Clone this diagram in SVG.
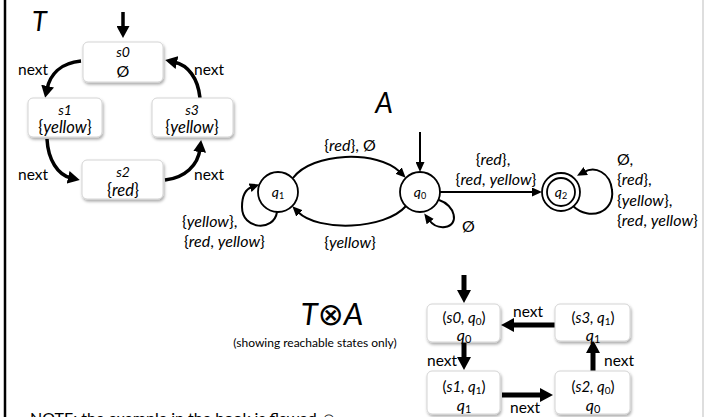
<svg xmlns="http://www.w3.org/2000/svg" width="704" height="417" viewBox="0 0 704 417">
<style>
text{font-family:Lato,"Liberation Sans","DejaVu Sans",sans-serif;fill:#000}
.i{font-style:italic}
.lbl{font-size:15.5px}
.al{font-size:16px}
.big{font-style:italic}
.box{fill:#fff;stroke:#d4d4d4;stroke-width:1;filter:url(#sh)}
.tc{stroke:#000;stroke-width:3.5;fill:none}
.ac{stroke:#000;stroke-width:2;fill:none}
.pc{stroke:#000;stroke-width:5;fill:none}
.st{fill:#fff;stroke:#000;stroke-width:1.8}
.mid{text-anchor:middle}
</style>
<defs>
<filter id="sh" x="-20%" y="-20%" width="140%" height="150%">
<feDropShadow dx="1" dy="2" stdDeviation="1.5" flood-color="#000" flood-opacity="0.35"/>
</filter>
<marker id="hT" viewBox="0 0 12 13" markerWidth="12" markerHeight="13" markerUnits="userSpaceOnUse" refX="3" refY="6.5" orient="auto"><path d="M0,0 L12,6.5 L0,13 z" fill="#000"/></marker>
<marker id="hA" viewBox="0 0 10 9" markerWidth="10" markerHeight="9" markerUnits="userSpaceOnUse" refX="2" refY="4.5" orient="auto"><path d="M0,0 L10,4.5 L0,9 z" fill="#000"/></marker>
<marker id="hP" viewBox="0 0 13 14" markerWidth="13" markerHeight="14" markerUnits="userSpaceOnUse" refX="3" refY="7" orient="auto"><path d="M0,0 L13,7 L0,14 z" fill="#000"/></marker>
</defs>
<rect width="704" height="417" fill="#fff"/>
<line x1="5" y1="0" x2="5" y2="417" stroke="#000" stroke-width="2.5"/>
<line x1="703" y1="0" x2="703" y2="417" stroke="#bdbdbd" stroke-width="1"/>
<text x="268" y="-9" style="font-family:'Liberation Sans',sans-serif;font-weight:bold;font-size:36px">p</text>
<text x="482" y="-9" style="font-family:'Liberation Sans',sans-serif;font-weight:bold;font-size:36px">g</text>

<text x="32" y="31" class="big" style="font-size:27px">T</text>
<text x="384" y="113" class="big mid" style="font-size:28px">A</text>
<text x="332" y="325" class="big mid" style="font-size:31px">T⊗A</text>
<text x="315" y="347" class="mid" style="font-size:12px">(showing reachable states only)</text>
<text x="30" y="424" style="font-size:16px">NOTE: the example in the book is flawed ☺</text>

<g id="connectors">
<path class="tc" d="M123,12 L123,29" marker-end="url(#hT)"/>
<path class="tc" d="M81,61 C60,63 50,75 47,89" marker-end="url(#hT)"/>
<path class="tc" d="M47,139 C48,160 58,175 71,178" marker-end="url(#hT)"/>
<path class="tc" d="M165,180 C185,178 198,165 200,149" marker-end="url(#hT)"/>
<path class="tc" d="M200,98 C198,78 188,65 174,62" marker-end="url(#hT)"/>

<path class="ac" d="M420,132 L420,164" marker-end="url(#hA)"/>
<path class="ac" d="M293,178 C312,152 378,150 400,172" marker-end="url(#hA)"/>
<path class="ac" d="M406,206 C385,230 318,232 298,212" marker-end="url(#hA)"/>
<path class="ac" d="M277,212 C274,232 242,230 242,207 C242,196 246,189 252,187" marker-end="url(#hA)"/>
<path class="ac" d="M439,200 C455,205 460,225 445,227 C437,228 432,224 429,220" marker-end="url(#hA)"/>
<path class="ac" d="M440,192 L534,192" marker-end="url(#hA)"/>
<path class="ac" d="M573,206 C590,222 615,212 612,190 C610,172 595,166 584,172" marker-end="url(#hA)"/>

<path class="pc" d="M464,275 L464,293" marker-end="url(#hP)"/>
<path class="pc" d="M555,325 L511,325" marker-end="url(#hP)"/>
<path class="pc" d="M464,342 L464,360" marker-end="url(#hP)"/>
<path class="pc" d="M502,395 L543,395" marker-end="url(#hP)"/>
<path class="pc" d="M593,372 L593,350" marker-end="url(#hP)"/>

<text x="18" y="75" class="lbl">next</text>
<text x="194" y="75" class="lbl">next</text>
<text x="18" y="180" class="lbl">next</text>
<text x="194" y="180" class="lbl">next</text>

<text x="350" y="151" class="al mid">{<tspan class="i">red</tspan>}, Ø</text>
<text x="350" y="248" class="al mid">{<tspan class="i">yellow</tspan>}</text>
<text x="182" y="227" class="al">{<tspan class="i">yellow</tspan>},</text>
<text x="184" y="247" class="al">{<tspan class="i">red</tspan>, <tspan class="i">yellow</tspan>}</text>
<text x="462" y="232" class="al">Ø</text>
<text x="493" y="165" class="al mid">{<tspan class="i">red</tspan>},</text>
<text x="496" y="185" class="al mid">{<tspan class="i">red</tspan>, <tspan class="i">yellow</tspan>}</text>
<text x="617" y="165" class="al">Ø,</text>
<text x="617" y="185" class="al">{<tspan class="i">red</tspan>},</text>
<text x="617" y="206" class="al">{<tspan class="i">yellow</tspan>},</text>
<text x="617" y="226" class="al">{<tspan class="i">red</tspan>, <tspan class="i">yellow</tspan>}</text>

<text x="513" y="317" class="lbl">next</text>
<text x="427" y="366" class="lbl">next</text>
<text x="510" y="413" class="lbl">next</text>
<text x="604" y="366" class="lbl">next</text>
</g>

<g id="s0"><rect class="box" x="83" y="42" width="80" height="40" rx="5"/>
<text x="123" y="57" class="i mid" style="font-size:14px">s0</text>
<text x="123" y="77" class="mid" style="font-size:16px">Ø</text></g>
<g id="s1"><rect class="box" x="28" y="98" width="74" height="39" rx="5"/>
<text x="65" y="115" class="i mid" style="font-size:14px">s1</text>
<text x="65" y="133" class="mid" style="font-size:16.5px">{<tspan class="i">yellow</tspan>}</text></g>
<g id="s3"><rect class="box" x="152" y="98" width="81" height="39" rx="5"/>
<text x="192" y="115" class="i mid" style="font-size:14px">s3</text>
<text x="192" y="133" class="mid" style="font-size:16.5px">{<tspan class="i">yellow</tspan>}</text></g>
<g id="s2"><rect class="box" x="82" y="160" width="81" height="39" rx="5"/>
<text x="123" y="177" class="i mid" style="font-size:14px">s2</text>
<text x="123" y="196" class="mid" style="font-size:16.5px">{<tspan class="i">red</tspan>}</text></g>

<g id="q1"><circle class="st" cx="278" cy="192" r="20"/>
<text x="278" y="197" class="i mid" style="font-size:14px">q<tspan style="font-style:normal;font-size:9px" dy="2">1</tspan></text></g>
<g id="q0"><circle class="st" cx="420" cy="192" r="20"/>
<text x="420" y="197" class="i mid" style="font-size:14px">q<tspan style="font-style:normal;font-size:9px" dy="2">0</tspan></text></g>
<g id="q2"><circle class="st" cx="561" cy="192" r="19"/><circle class="st" cx="561" cy="192" r="14"/>
<text x="561" y="197" class="i mid" style="font-size:14px">q<tspan style="font-style:normal;font-size:9px" dy="2">2</tspan></text></g>

<g id="p_s0q0"><rect class="box" x="427" y="304" width="73" height="38" rx="5"/>
<text x="464" y="323" class="mid" style="font-size:15px">(<tspan class="i">s0, q</tspan><tspan style="font-size:10px" dy="2">0</tspan><tspan dy="-2">)</tspan></text>
<text x="464" y="341" class="i mid" style="font-size:16px">q<tspan style="font-style:normal;font-size:11px" dy="2">0</tspan></text></g>
<g id="p_s3q1"><rect class="box" x="555" y="304" width="75" height="37" rx="5"/>
<text x="593" y="323" class="mid" style="font-size:15px">(<tspan class="i">s3, q</tspan><tspan style="font-size:10px" dy="2">1</tspan><tspan dy="-2">)</tspan></text>
<text x="593" y="341" class="i mid" style="font-size:16px">q<tspan style="font-style:normal;font-size:11px" dy="2">1</tspan></text></g>
<g id="p_s1q1"><rect class="box" x="427" y="371" width="73" height="43" rx="5"/>
<text x="464" y="392" class="mid" style="font-size:15px">(<tspan class="i">s1, q</tspan><tspan style="font-size:10px" dy="2">1</tspan><tspan dy="-2">)</tspan></text>
<text x="464" y="411" class="i mid" style="font-size:16px">q<tspan style="font-style:normal;font-size:11px" dy="2">1</tspan></text></g>
<g id="p_s2q0"><rect class="box" x="555" y="371" width="75" height="43" rx="5"/>
<text x="593" y="392" class="mid" style="font-size:15px">(<tspan class="i">s2, q</tspan><tspan style="font-size:10px" dy="2">0</tspan><tspan dy="-2">)</tspan></text>
<text x="593" y="411" class="i mid" style="font-size:16px">q<tspan style="font-style:normal;font-size:11px" dy="2">0</tspan></text></g>
</svg>
